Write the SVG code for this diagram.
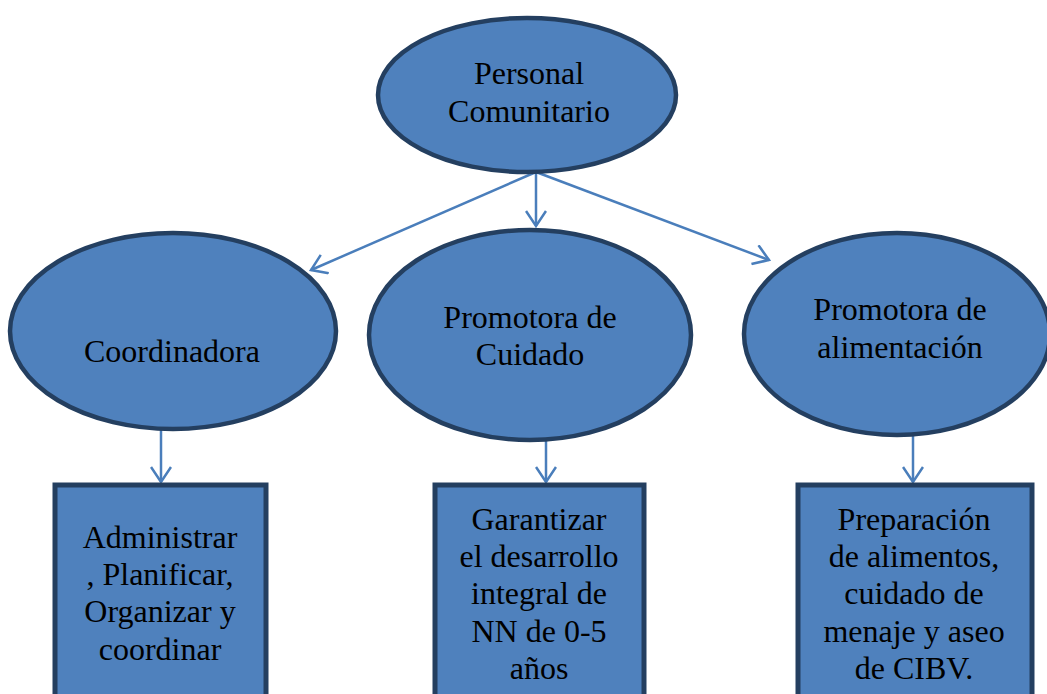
<svg xmlns="http://www.w3.org/2000/svg" width="1047" height="694" viewBox="0 0 1047 694">
<style>
.node{fill:#4F81BD;stroke:#243F60;stroke-width:4.5}
.box{fill:#4F81BD;stroke:#243F60;stroke-width:5}
.t{font-family:"Liberation Serif","Times New Roman",serif;font-size:32px;fill:#000;text-anchor:middle}
.c{stroke:#4A7EBB;stroke-width:2.5;fill:none;marker-end:url(#arr)}
</style>
<defs>
<marker id="arr" viewBox="0 0 18 22" refX="16" refY="11" markerWidth="18" markerHeight="22" markerUnits="userSpaceOnUse" orient="auto">
<path d="M1,1 L16,11 L1,21" fill="none" stroke="#4A7EBB" stroke-width="2.5"/>
</marker>
</defs>
<rect width="1047" height="694" fill="#fff"/>
<g id="connectors">
<line class="c" x1="536" y1="172" x2="311" y2="270"/>
<line class="c" x1="536" y1="172" x2="536" y2="226"/>
<line class="c" x1="536" y1="172" x2="769" y2="260"/>
<line class="c" x1="161" y1="428" x2="161" y2="482"/>
<line class="c" x1="546" y1="440" x2="546" y2="482"/>
<line class="c" x1="913" y1="436" x2="913" y2="482"/>
</g>
<g id="personal">
<ellipse class="node" cx="527" cy="95" rx="149" ry="77"/>
<text class="t" x="529" y="84">Personal</text>
<text class="t" x="529" y="122">Comunitario</text>
</g>
<g id="coordinadora">
<ellipse class="node" cx="173" cy="331" rx="163" ry="98"/>
<text class="t" x="172" y="362">Coordinadora</text>
</g>
<g id="promotora-cuidado">
<ellipse class="node" cx="530" cy="335" rx="161" ry="105"/>
<text class="t" x="530" y="328">Promotora de</text>
<text class="t" x="530" y="365">Cuidado</text>
</g>
<g id="promotora-alimentacion">
<ellipse class="node" cx="897" cy="334" rx="153" ry="101"/>
<text class="t" x="900" y="320">Promotora de</text>
<text class="t" x="900" y="358">alimentación</text>
</g>
<g id="box-coordinadora">
<rect class="box" x="55" y="485" width="211" height="240"/>
<text class="t" x="160" y="548">Administrar</text>
<text class="t" x="160" y="585">, Planificar,</text>
<text class="t" x="160" y="622">Organizar y</text>
<text class="t" x="160" y="660">coordinar</text>
</g>
<g id="box-cuidado">
<rect class="box" x="435" y="485" width="209" height="240"/>
<text class="t" x="539" y="530">Garantizar</text>
<text class="t" x="539" y="567">el desarrollo</text>
<text class="t" x="539" y="604">integral de</text>
<text class="t" x="539" y="642">NN de 0-5</text>
<text class="t" x="539" y="679">años</text>
</g>
<g id="box-alimentacion">
<rect class="box" x="798" y="485" width="234" height="240"/>
<text class="t" x="914" y="530">Preparación</text>
<text class="t" x="914" y="567">de alimentos,</text>
<text class="t" x="914" y="604">cuidado de</text>
<text class="t" x="914" y="642">menaje y aseo</text>
<text class="t" x="914" y="679">de CIBV.</text>
</g>
</svg>
